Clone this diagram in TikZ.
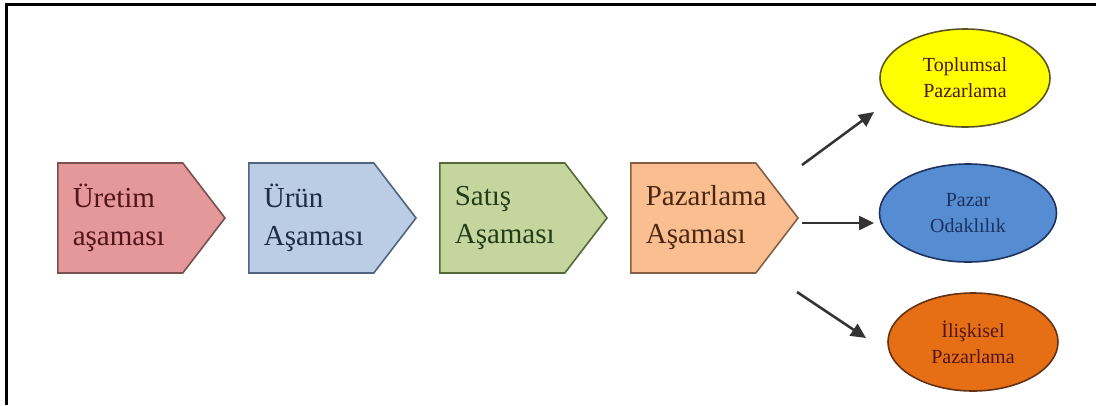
\documentclass[tikz,border=0pt]{standalone}
\usepackage{fontspec}
\setmainfont{Liberation Serif}
\usetikzlibrary{arrows.meta,positioning,shapes.symbols,shapes.geometric}
\definecolor{uFill}{RGB}{228,152,153}
\definecolor{uLine}{RGB}{120,80,80}
\definecolor{uText}{RGB}{80,20,25}
\definecolor{rFill}{RGB}{187,205,228}
\definecolor{rLine}{RGB}{80,100,130}
\definecolor{rText}{RGB}{30,45,70}
\definecolor{sFill}{RGB}{196,214,157}
\definecolor{sLine}{RGB}{85,105,55}
\definecolor{sText}{RGB}{35,60,25}
\definecolor{pFill}{RGB}{250,190,145}
\definecolor{pLine}{RGB}{135,95,70}
\definecolor{pText}{RGB}{75,40,20}
\definecolor{yFill}{RGB}{255,255,0}
\definecolor{yLine}{RGB}{90,85,30}
\definecolor{bFill}{RGB}{85,140,210}
\definecolor{bLine}{RGB}{30,50,95}
\definecolor{oFill}{RGB}{230,110,20}
\definecolor{oLine}{RGB}{100,50,20}
\tikzset{arr/.style={line width=2.5pt, draw=black!80, -{Triangle[length=15pt,width=14pt]}},
  stg/.style={shape=signal, signal to=east, signal from=nowhere, signal pointer angle=105,
    draw, line width=1.6pt, minimum height=110pt, text width=95pt,
    align=left, inner xsep=15pt, inner ysep=0pt, font=\fontsize{29}{38}\selectfont},
  ov/.style={ellipse, draw, line width=1.6pt, minimum width=170pt, minimum height=98pt,
    inner sep=0pt, align=center, font=\fontsize{20}{26}\selectfont}}

\begin{document}
\begin{tikzpicture}[x=1pt, y=-1pt, node distance=22pt]
  \useasboundingbox (0,0) rectangle (1096,405);
  % frame
  \draw[line width=3pt] (6,405) -- (6,4) -- (1096,4);
  % stages
  \node[stg, fill=uFill, draw=uLine, text=uText, anchor=west] (st1) at (57,218) {Üretim\\aşaması};
  \node[stg, fill=rFill, draw=rLine, text=rText, right=of st1] (st2) {Ürün\\Aşaması};
  \node[stg, fill=sFill, draw=sLine, text=sText, right=of st2] (st3) {Satış\\Aşaması};
  \node[stg, fill=pFill, draw=pLine, text=pText, right=of st3] (st4) {Pazarlama\\Aşaması};
  % results
  \node[ov, fill=yFill, draw=yLine, text=uText] (o1) at (965,78) {Toplumsal\\Pazarlama};
  \node[ov, fill=bFill, draw=bLine, text=bLine, minimum width=177pt] (o2) at (968,213) {Pazar\\Odaklılık};
  \node[ov, fill=oFill, draw=oLine, text=uText] (o3) at (973,342) {İlişkisel\\Pazarlama};
  % arrows
  \coordinate (a1) at (802,165);
  \coordinate (a2) at (802,223);
  \coordinate (a3) at (797,292);
  \coordinate (b1) at (874,112);
  \coordinate (b2) at (874,223);
  \coordinate (b3) at (866,338);
  \foreach \i in {1,2,3}{
    \draw[arr] (a\i) -- (b\i);}
\end{tikzpicture}
\end{document}
